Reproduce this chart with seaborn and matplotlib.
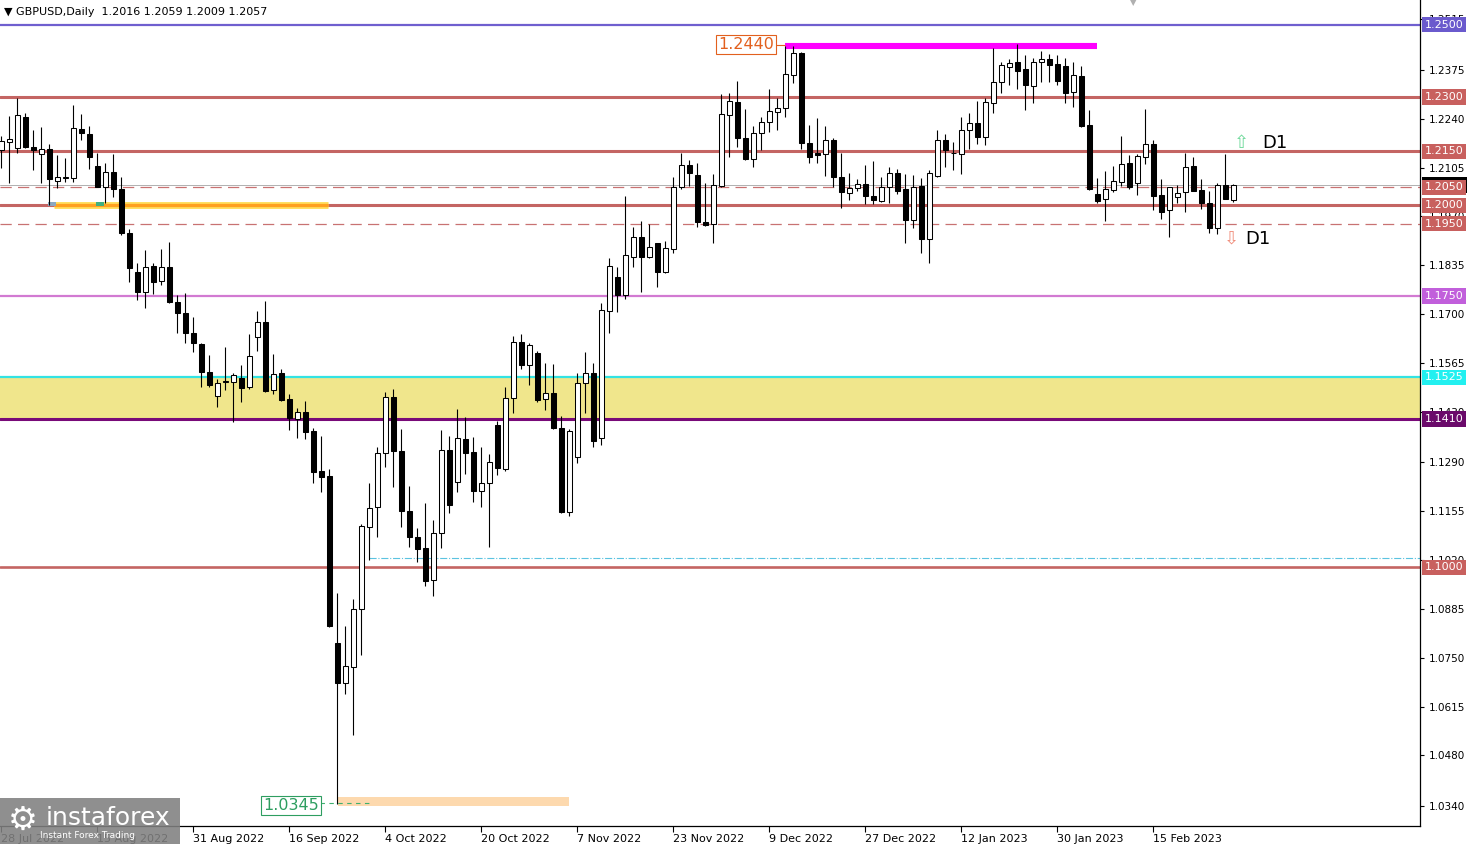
import matplotlib
matplotlib.use("Agg")
import matplotlib.pyplot as plt
import numpy as np
import pandas as pd
import seaborn as sns
from matplotlib.transforms import blended_transform_factory
from matplotlib.patches import Rectangle

sns.set_theme(style="white")
plt.rcParams['font.family'] = ['DejaVu Sans']

# ---------------- data ----------------
symbol_title = "GBPUSD,Daily  1.2016 1.2059 1.2009 1.2057"
start_date = "2022-07-28"

opens = [1.2153,1.2176,1.2158,1.2244,1.2161,1.2142,1.2155,1.2067,1.2077,1.2075,
         1.2211,1.2198,1.2109,1.2050,1.2093,1.2046,1.1923,1.1817,1.1762,1.1833,
         1.1792,1.1829,1.1734,1.1702,1.1648,1.1617,1.1541,1.1473,1.1513,1.1513,
         1.1522,1.1498,1.1636,1.1678,1.1490,1.1536,1.1464,1.1409,1.1428,1.1378,
         1.1267,1.1252,1.0792,1.0681,1.0725,1.0884,1.1112,1.1166,1.1317,1.1470,
         1.1322,1.1156,1.1085,1.1052,1.0965,1.1096,1.1324,1.1237,1.1355,1.1318,
         1.1212,1.1232,1.1393,1.1271,1.1467,1.1624,1.1559,1.1592,1.1464,1.1483,
         1.1384,1.1154,1.1304,1.1509,1.1538,1.1357,1.1709,1.1803,1.1753,1.1858,
         1.1912,1.1858,1.1895,1.1817,1.1879,1.2050,1.2112,1.2084,1.1955,1.1949,
         1.2054,1.2250,1.2287,1.2186,1.2128,1.2201,1.2232,1.2259,1.2269,1.2361,
         1.2422,1.2174,1.2144,1.2142,1.2181,1.2080,1.2035,1.2048,1.2059,1.2026,
         1.2013,1.2052,1.2089,1.2045,1.1960,1.2054,1.1907,1.2082,1.2181,1.2144,
         1.2142,1.2209,1.2227,1.2190,1.2284,1.2342,1.2384,1.2397,1.2376,1.2330,
         1.2397,1.2404,1.2391,1.2386,1.2314,1.2358,1.2223,1.2032,1.2017,1.2043,
         1.2066,1.2118,1.2063,1.2133,1.2170,1.2029,1.1988,1.2023,1.2038,1.2109,
         1.2043,1.2008,1.1937,1.2057,1.2016]

highs = [1.2192,1.2247,1.2296,1.2255,1.2209,1.2216,1.2170,1.2140,1.2130,1.2278,
         1.2253,1.2220,1.2146,1.2117,1.2142,1.2078,1.1934,1.1840,1.1877,1.1840,
         1.1879,1.1900,1.1753,1.1759,1.1691,1.1621,1.1587,1.1520,1.1608,1.1536,
         1.1559,1.1645,1.1709,1.1737,1.1590,1.1547,1.1479,1.1439,1.1460,1.1384,
         1.1363,1.1271,1.0928,1.0838,1.0911,1.1120,1.1232,1.1333,1.1485,1.1492,
         1.1381,1.1225,1.1108,1.1177,1.1131,1.1379,1.1363,1.1437,1.1415,1.1359,
         1.1333,1.1313,1.1405,1.1498,1.1639,1.1645,1.1621,1.1599,1.1564,1.1562,
         1.1418,1.1381,1.1538,1.1596,1.1565,1.1730,1.1854,1.1829,1.2026,1.1940,
         1.1958,1.1949,1.1896,1.1903,1.2078,1.2146,1.2126,1.2117,1.2063,1.2087,
         1.2308,1.2310,1.2345,1.2266,1.2220,1.2245,1.2321,1.2296,1.2441,1.2441,
         1.2425,1.2223,1.2241,1.2220,1.2186,1.2146,1.2091,1.2072,1.2112,1.2124,
         1.2080,1.2106,1.2100,1.2087,1.2084,1.2075,1.2098,1.2209,1.2198,1.2176,
         1.2244,1.2255,1.2290,1.2296,1.2434,1.2397,1.2404,1.2446,1.2416,1.2407,
         1.2428,1.2419,1.2416,1.2408,1.2397,1.2386,1.2264,1.2075,1.2096,1.2109,
         1.2192,1.2140,1.2142,1.2266,1.2181,1.2072,1.2051,1.2057,1.2146,1.2133,
         1.2072,1.2041,1.2063,1.2142,1.2059]

lows = [1.2104,1.2063,1.2144,1.2158,1.2098,1.2063,1.2001,1.2048,1.2066,1.2066,
        1.2181,1.2100,1.2050,1.2006,1.2024,1.1918,1.1789,1.1739,1.1716,1.1755,
        1.1780,1.1731,1.1647,1.1619,1.1596,1.1498,1.1498,1.1444,1.1490,1.1402,
        1.1458,1.1492,1.1599,1.1485,1.1478,1.1460,1.1379,1.1357,1.1354,1.1234,
        1.1209,1.0836,1.0345,1.0650,1.0536,1.0758,1.1020,1.1083,1.1276,1.1223,
        1.1112,1.1055,1.1015,1.0948,1.0921,1.1052,1.1149,1.1209,1.1258,1.1181,
        1.1167,1.1057,1.1255,1.1267,1.1427,1.1547,1.1504,1.1458,1.1435,1.1381,
        1.1149,1.1142,1.1287,1.1426,1.1332,1.1338,1.1647,1.1706,1.1741,1.1831,
        1.1762,1.1854,1.1776,1.1813,1.1870,1.2045,1.2054,1.1940,1.1943,1.1897,
        1.2050,1.2133,1.2161,1.2126,1.2106,1.2153,1.2204,1.2209,1.2245,1.2339,
        1.2155,1.2118,1.2118,1.2082,1.2052,1.1992,1.2015,1.2040,1.2004,1.2004,
        1.2011,1.2008,1.2032,1.1897,1.1937,1.1870,1.1840,1.2080,1.2107,1.2098,
        1.2087,1.2155,1.2170,1.2167,1.2255,1.2312,1.2333,1.2321,1.2264,1.2283,
        1.2342,1.2342,1.2333,1.2283,1.2273,1.2217,1.2043,1.2006,1.1958,1.2038,
        1.2054,1.2045,1.2029,1.2115,1.1988,1.1962,1.1914,1.2008,1.1983,1.2040,
        1.1990,1.1925,1.1921,1.2017,1.2009]

closes = [1.2178,1.2183,1.2250,1.2163,1.2153,1.2157,1.2072,1.2080,1.2078,1.2213,
          1.2201,1.2135,1.2052,1.2093,1.2045,1.1923,1.1826,1.1762,1.1829,1.1789,
          1.1829,1.1734,1.1702,1.1648,1.1619,1.1541,1.1504,1.1510,1.1514,1.1531,
          1.1495,1.1584,1.1678,1.1487,1.1534,1.1462,1.1412,1.1428,1.1375,1.1264,
          1.1249,1.0838,1.0681,1.0727,1.0884,1.1114,1.1163,1.1317,1.1470,1.1322,
          1.1156,1.1085,1.1050,1.0963,1.1094,1.1324,1.1172,1.1357,1.1317,1.1212,
          1.1232,1.1292,1.1274,1.1467,1.1624,1.1559,1.1614,1.1462,1.1481,1.1384,
          1.1154,1.1378,1.1509,1.1538,1.1350,1.1711,1.1833,1.1753,1.1863,1.1912,
          1.1858,1.1884,1.1817,1.1882,1.2050,1.2112,1.2089,1.1955,1.1946,1.2057,
          1.2253,1.2290,1.2186,1.2128,1.2201,1.2232,1.2262,1.2269,1.2363,1.2422,
          1.2172,1.2133,1.2140,1.2181,1.2078,1.2038,1.2048,1.2059,1.2027,1.2015,
          1.2050,1.2091,1.2041,1.1960,1.2050,1.1907,1.2089,1.2181,1.2153,1.2145,
          1.2209,1.2229,1.2190,1.2287,1.2342,1.2388,1.2393,1.2373,1.2333,1.2397,
          1.2404,1.2388,1.2345,1.2312,1.2361,1.2220,1.2045,1.2013,1.2045,1.2069,
          1.2115,1.2050,1.2137,1.2170,1.2026,1.1983,1.2050,1.2035,1.2106,1.2041,
          1.2008,1.1937,1.2057,1.2017,1.2057]

price_ticks = [1.2515, 1.2375, 1.2240, 1.2105, 1.1970, 1.1835, 1.1700, 1.1565,
               1.1430, 1.1290, 1.1155, 1.1020, 1.0885, 1.0750, 1.0615, 1.0480, 1.0340]
date_tick_step = 12

top_level = 1.2500
red_levels = [1.2300, 1.2150, 1.2000, 1.1000]
dashed_levels = [1.2050, 1.1950]
pink_level = 1.1750
zone_top = 1.1525
zone_bottom = 1.1410
current_price = 1.2057
peak_price = 1.2440
trough_price = 1.0345
trough_zone = [1.0340, 1.0365]
support_line = 1.2000
dashdot_level = 1.1026

df = pd.DataFrame({"date": pd.bdate_range(start_date, periods=len(opens)),
                   "open": opens, "high": highs, "low": lows, "close": closes})
df["x"] = np.arange(len(df))

# ---------------- figure ----------------
W, H = 1476, 844
fig = plt.figure(figsize=(W / 100, H / 100), dpi=100)
fig.patch.set_facecolor("white")
ax = fig.add_axes([0, 18 / H, 1420 / W, 826 / H])
ax.set_facecolor("white")

ax.set_ylim(1.02849, 1.2568)
ax.set_xlim(-0.16, 177.34)

# zones and levels (behind candles)
ax.axhspan(zone_bottom, zone_top, color="#F0E68C", zorder=0.5, lw=0)
ax.axhline(top_level, color="#6F5FCF", lw=1.6, zorder=1)
for lv in red_levels:
    ax.axhline(lv, color="#C46563", lw=2.2 if lv != 1.1 else 1.9, zorder=1)
ax.axhline(current_price, color="#B0B0B0", lw=0.7, zorder=1)
for lv in dashed_levels:
    ax.axhline(lv, color="#C87272", lw=0.9, ls=(0, (9, 5)), zorder=1)
ax.axhline(pink_level, color="#D27AD2", lw=1.6, zorder=1)
ax.axhline(zone_top, color="#33E3E3", lw=1.6, zorder=1)
ax.axhline(zone_bottom, color="#780A78", lw=2.2, zorder=1)
ax.hlines(dashdot_level, 46, 177.34, color="#5BC3E0", lw=0.8, ls="-.", zorder=1)

# orange support line
ax.hlines(support_line, 6.6, 40.8, color="#FFE060", lw=5, zorder=1.1)
ax.hlines(support_line, 6.6, 40.8, color="#FFA020", lw=2.4, zorder=1.2)
ax.add_patch(Rectangle((5.9, support_line - 0.0002), 0.9, 0.0011, color="#8CA8C0", zorder=1.3, lw=0))
ax.add_patch(Rectangle((11.9, support_line - 0.0002), 0.9, 0.0011, color="#40B080", zorder=1.3, lw=0))

# peak line
ax.hlines(peak_price, 98, 137, color="#FF00FF", lw=4.4, zorder=1.5)
# trough zone
ax.fill_between([42.1, 71.0], trough_zone[0], trough_zone[1], color="#FDD9AE", lw=0, zorder=0.8)
ax.hlines(trough_price + 0.0004, 39.9, 46, color="#40B070", lw=0.8, ls=(0, (4, 4)), zorder=1.5)

# candles
ax.vlines(df["x"], df["low"], df["high"], colors="black", lw=0.8, zorder=2)
body_bottom = np.minimum(df["open"], df["close"])
body_height = np.maximum(np.abs(df["close"] - df["open"]), 0.00012)
body_color = np.where(df["close"] >= df["open"], "white", "black")
ax.bar(df["x"], body_height, bottom=body_bottom, width=0.62, color=body_color,
       edgecolor="black", linewidth=0.75, zorder=3)

# annotations
ax.text(96.6, peak_price + 0.0005, "1.2440", ha="right", va="center", fontsize=11.5,
        color="#E2601E", zorder=6,
        bbox=dict(boxstyle="square,pad=0.12", fc="white", ec="#E2601E", lw=0.8))
ax.hlines(peak_price + 0.0005, 96.7, 98, color="#E2601E", lw=0.8, zorder=5)
ax.text(39.7, trough_price - 0.0004, "1.0345", ha="right", va="center", fontsize=11.5,
        color="#2E9E60", zorder=6,
        bbox=dict(boxstyle="square,pad=0.12", fc="white", ec="#2E9E60", lw=0.8))

ax.text(155.0, 1.2173, "\u21E7", ha="center", va="center", fontsize=13, color="#6CD898", zorder=6)
ax.text(157.6, 1.2173, "D1", ha="left", va="center", fontsize=13, color="black", zorder=6)
ax.text(153.8, 1.1908, "\u21E9", ha="center", va="center", fontsize=13, color="#F08C7A", zorder=6)
ax.text(155.5, 1.1908, "D1", ha="left", va="center", fontsize=13, color="black", zorder=6)

# right-axis level labels
trans = blended_transform_factory(ax.transAxes, ax.transData)
lab_x = 1425 / 1420


def level_label(val, bg, fg="white", z=7):
    ax.text(lab_x, val, f"{val:.4f}", transform=trans, ha="left", va="center",
            fontsize=8, color=fg, zorder=z, clip_on=False,
            bbox=dict(boxstyle="square,pad=0.24", fc=bg, ec="none"))


level_label(current_price, "black", z=6)
level_label(top_level, "#6A5ACD")
for lv in [1.2300, 1.2150, 1.2050, 1.2000, 1.1950, 1.1000]:
    level_label(lv, "#C8605E")
level_label(pink_level, "#C15FDB")
level_label(zone_top, "#22F0F0")
level_label(zone_bottom, "#6A0A6A")

# axes styling
for s in ["top", "left"]:
    ax.spines[s].set_visible(False)
for s in ["right", "bottom"]:
    ax.spines[s].set_visible(True)
    ax.spines[s].set_color("black")
    ax.spines[s].set_linewidth(0.9)

ax.yaxis.tick_right()
ax.set_yticks(price_ticks)
ax.set_yticklabels([f"{v:.4f}" for v in price_ticks])
ax.tick_params(axis="y", which="both", right=True, left=False, length=3, width=0.8,
               direction="out", labelsize=7.5, pad=3, colors="black")

tick_idx = df["x"][::date_tick_step]
ax.set_xticks(tick_idx)
ax.set_xticklabels([f"{d.day} {d.strftime('%b %Y')}" for d in df["date"][::date_tick_step]])
ax.tick_params(axis="x", bottom=True, length=4, width=0.8, direction="out",
               labelsize=8, pad=2, colors="black")
for lbl in ax.get_xticklabels():
    lbl.set_ha("left")
ax.grid(False)
ax.set_xlabel("")
ax.set_ylabel("")

# header
fig.text(4 / W, 1 - 12 / H, "\u25BC " + symbol_title, fontsize=8, va="center", ha="left", color="black")
fig.text(1133 / W, 1 - 3 / H, "\u25BC", fontsize=6, va="center", ha="center", color="#B0B0B0")

# logo
fig.patches.append(Rectangle((0, 0), 180 / W, 46 / H, transform=fig.transFigure,
                             fc="#808080", alpha=0.88, ec="none", zorder=10))
fig.text(23 / W, 1 - 820 / H, "\u2699", fontsize=24, color="white", ha="center", va="center", zorder=11)
fig.text(46 / W, 1 - 818 / H, "instaforex", fontsize=18, color="white", ha="left", va="center", zorder=11)
fig.text(40 / W, 1 - 835 / H, "Instant Forex Trading", fontsize=6.5, color="white", ha="left",
         va="center", zorder=11)

fig.savefig("out.png", dpi=100, facecolor="white")
